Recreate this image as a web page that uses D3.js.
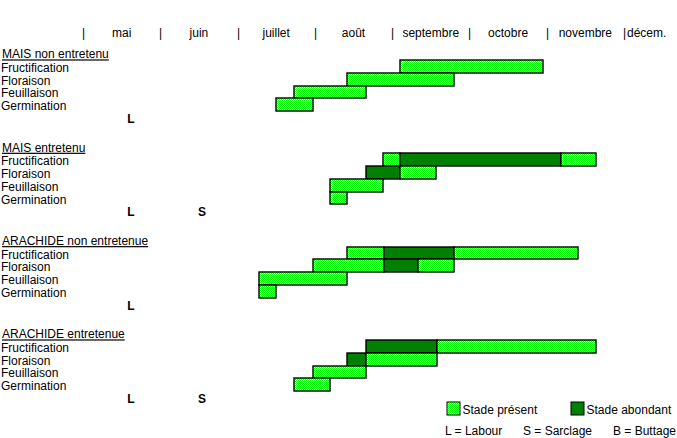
<!DOCTYPE html>
<html><head><meta charset="utf-8">
<script src="https://cdn.jsdelivr.net/npm/d3@7"></script>
<style>
body{margin:0;background:#fff;}
text{font-family:"Liberation Sans",Arial,sans-serif;font-size:12px;fill:#000;}
</style></head>
<body><svg id="c" width="677" height="438"></svg>
<script>
// ---- data ----
const months = ["mai","juin","juillet","août","septembre","octobre","novembre","décem."];
const monthStarts = [5,6,7,8,9,10,11,12];
const stages = ["Fructification","Floraison","Feuillaison","Germination"];
const groups = ["MAIS non entretenu","MAIS entretenu","ARACHIDE non entretenue","ARACHIDE entretenue"];
// segments: [group, stage, start(month), end(month), type]  type: "p" = présent, "a" = abondant
const segments = [
  [0,"Fructification",9.10,10.95,"p"],
  [0,"Floraison",8.42,9.80,"p"],
  [0,"Feuillaison",7.73,8.66,"p"],
  [0,"Germination",7.50,7.97,"p"],

  [1,"Fructification",8.88,9.10,"p"],
  [1,"Fructification",9.10,11.18,"a"],
  [1,"Fructification",11.18,11.64,"p"],
  [1,"Floraison",8.66,9.10,"a"],
  [1,"Floraison",9.10,9.57,"p"],
  [1,"Feuillaison",8.20,8.88,"p"],
  [1,"Germination",8.20,8.42,"p"],

  [2,"Fructification",8.42,8.89,"p"],
  [2,"Fructification",8.89,9.80,"a"],
  [2,"Fructification",9.80,11.41,"p"],
  [2,"Floraison",7.97,8.89,"p"],
  [2,"Floraison",8.89,9.34,"a"],
  [2,"Floraison",9.34,9.80,"p"],
  [2,"Feuillaison",7.28,8.42,"p"],
  [2,"Germination",7.28,7.50,"p"],

  [3,"Fructification",8.66,9.58,"a"],
  [3,"Fructification",9.58,11.64,"p"],
  [3,"Floraison",8.42,8.66,"a"],
  [3,"Floraison",8.66,9.58,"p"],
  [3,"Feuillaison",7.97,8.66,"p"],
  [3,"Germination",7.73,8.20,"p"]
];
// interventions: [group, letter, month]
const interventions = [
  [0,"L",5.62],
  [1,"L",5.62],[1,"S",6.54],
  [2,"L",5.62],
  [3,"L",5.62],[3,"S",6.54]
];
const legendItems = [["p","Stade présent"],["a","Stade abondant"]];
const keyItems = ["L = Labour","S = Sarclage","B = Buttage"];

// ---- chart ----
const svg = d3.select("#c");
const defs = svg.append("defs");
const pat = defs.append("pattern").attr("id","chk").attr("patternUnits","userSpaceOnUse")
  .attr("x",0).attr("y",0).attr("width",2).attr("height",2);
pat.append("rect").attr("width",2).attr("height",2).attr("fill","#ffffff").attr("shape-rendering","crispEdges");
pat.append("rect").attr("x",0).attr("y",0).attr("width",1).attr("height",1).attr("fill","#00ff00").attr("shape-rendering","crispEdges");
pat.append("rect").attr("x",1).attr("y",1).attr("width",1).attr("height",1).attr("fill","#00ff00").attr("shape-rendering","crispEdges");
const fillOf = t => t==="a" ? "#008000" : "url(#chk)";

const x = d3.scaleLinear().domain([5,12]).range([83,624]);
const gy = d3.scaleLinear().domain([0,3]).range([60,340]);
const ry = d3.scaleBand().domain(stages).range([0,51]);
const rowY = (g,s) => Math.round(gy(g) + ry(s));

// header
const hdr = svg.append("g");
hdr.selectAll("text.sep").data(monthStarts).join("text")
  .attr("class","sep").attr("x",d=>Math.round(x(d))+0.5).attr("y",37).attr("text-anchor","middle").text("|");
hdr.selectAll("text.m").data(months).join("text")
  .attr("class","m")
  .attr("x",(d,i)=> i===months.length-1 ? x(monthStarts[i])+3 : x(monthStarts[i]+0.5))
  .attr("text-anchor",(d,i)=> i===months.length-1 ? "start" : "middle")
  .attr("y",37).text(d=>d);

// group labels
groups.forEach((g,i)=>{
  svg.append("text").attr("x",2).attr("y",gy(i)-1.6).attr("text-decoration","underline").text(g);
  stages.forEach(s=>{
    svg.append("text").attr("x",1).attr("y",gy(i)+ry(s)+ry.bandwidth()-0.8).text(s);
  });
});

// bars (absolute pixel-aligned coordinates)
svg.append("g").selectAll("rect").data(segments).join("rect")
  .attr("x",d=>Math.round(x(d[2]))).attr("width",d=>Math.round(x(d[3]))-Math.round(x(d[2])))
  .attr("y",d=>rowY(d[0],d[1])).attr("height",d=>Math.round(gy(d[0])+ry(d[1])+ry.bandwidth())-rowY(d[0],d[1]))
  .attr("fill",d=>fillOf(d[4])).attr("stroke","#000").attr("stroke-width",1.4);

// interventions
svg.append("g").selectAll("text").data(interventions).join("text")
  .attr("x",d=>x(d[2])).attr("y",d=>gy(d[0])+63).attr("text-anchor","middle")
  .attr("font-weight","bold").text(d=>d[1]);

// legend
const lg = svg.append("g");
const lx = [447,571];
legendItems.forEach((d,i)=>{
  lg.append("rect").attr("x",lx[i]).attr("y",402).attr("width",13).attr("height",13)
    .attr("fill",fillOf(d[0])).attr("stroke","#000").attr("stroke-width",1);
  lg.append("text").attr("x",lx[i]+15.5).attr("y",413.5).text(d[1]);
});
const kx = [445,523,613];
keyItems.forEach((d,i)=>{
  lg.append("text").attr("x",kx[i]).attr("y",434.5).text(d);
});
</script></body></html>
